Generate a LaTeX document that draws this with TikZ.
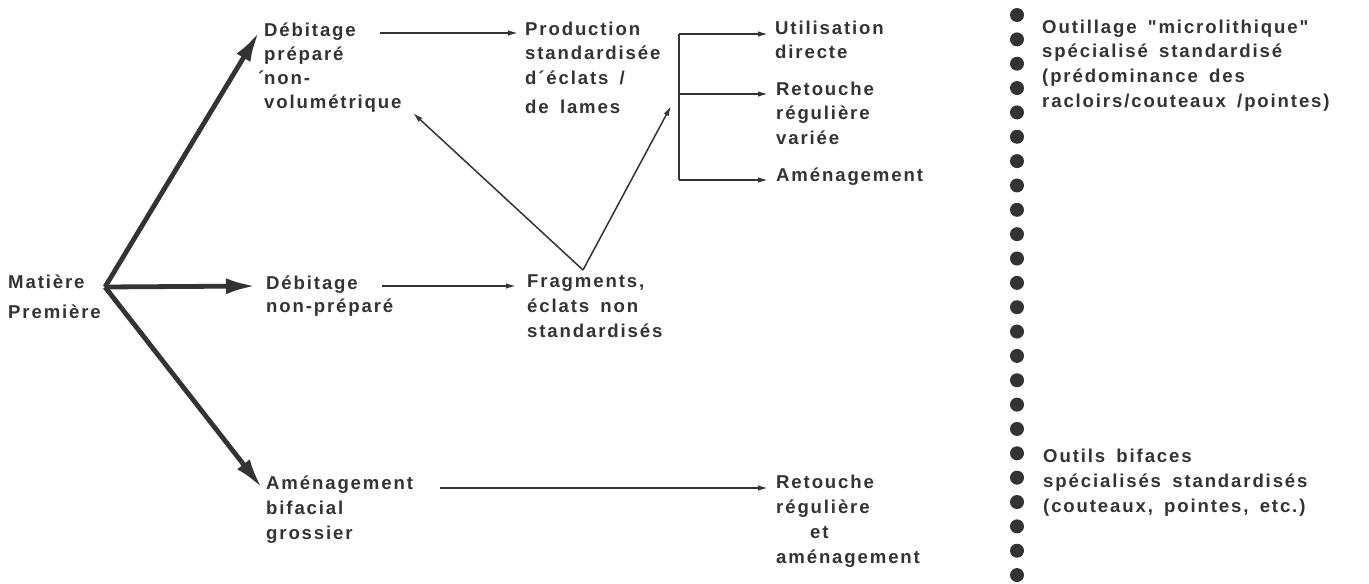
\documentclass[tikz,border=0pt]{standalone}
\usepackage{fontspec}
\newfontfamily\labfont{Liberation Sans Bold}[LetterSpace=10,WordSpace=1.6]
\usetikzlibrary{arrows.meta}
\definecolor{ink}{gray}{0.2}
\newcommand\stk[2][24.5pt]{\vtop{\baselineskip=#1\lineskip=0pt\lineskiplimit=-100pt\halign{##\hfil\cr#2\crcr}}}
\begin{document}
\begin{tikzpicture}[x=1pt,y=-1pt,
  txt/.style={anchor=base west,inner sep=0pt,text=ink,font=\labfont\fontsize{18.6}{24}\selectfont},
  bigarrow/.style={draw=ink,line width=4.8pt,-{Latex[length=30pt,width=16pt]}},
  thinarrow/.style={draw=ink,line width=1.5pt,-{Latex[length=10pt,width=5.5pt]}},
  thinline/.style={draw=ink,line width=1.5pt}]
\useasboundingbox (0,0) rectangle (1369,584);
% text blocks
\node[txt] (mp) at (8,288) {\stk[30pt]{Matière\cr Première}};
\node[txt] (dp) at (264,36) {\stk[24pt]{Débitage\cr préparé\cr \llap{´}non-\cr volumétrique}};
\node[txt] (dnp) at (266,289) {\stk[23pt]{Débitage\cr non-préparé}};
\node[txt] (ab) at (266,489) {\stk[25pt]{Aménagement\cr bifacial\cr grossier}};
\node[txt] (prod) at (525,35) {\stk[24.5pt]{Production\cr standardisée\cr d´éclats /\cr\noalign{\vskip5pt} de lames}};
\node[txt] (frag) at (527,287) {\stk[25pt]{Fragments,\cr éclats non\cr standardisés}};
\node[txt] (util) at (775,34) {\stk[24.5pt]{Utilisation\cr directe}};
\node[txt] (ret) at (776,95) {\stk[24.5pt]{Retouche\cr régulière\cr variée}};
\node[txt] (amen) at (776,181) {Aménagement};
\node[txt] (retam) at (776,488) {\stk[25pt]{Retouche\cr régulière\cr \hspace*{34pt}et\cr aménagement}};
\node[txt] (outm) at (1042,33) {\stk[24.7pt]{Outillage "microlithique"\cr spécialisé standardisé\cr (prédominance des\cr racloirs/couteaux /pointes)}};
\node[txt] (outb) at (1043,462) {\stk[25pt]{Outils bifaces\cr spécialisés standardisés\cr (couteaux, pointes, etc.)}};
% connector end points
\coordinate (o) at (105,287);
\coordinate (dp-in) at (259,32);
\coordinate (dnp-in) at (256,286);
\coordinate (ab-in) at (262,488);
\coordinate (dp-out) at (380,33);
\coordinate (prod-in) at (518,33);
\coordinate (dnp-out) at (382,286);
\coordinate (frag-in) at (516,286);
\coordinate (ab-out) at (440,488);
\coordinate (retam-in) at (768,488);
\coordinate (brtop) at (679,34);
\coordinate (brmid) at (679,94);
\coordinate (brbot) at (679,180);
\coordinate (util-in) at (768,34);
\coordinate (ret-in) at (768,94);
\coordinate (amen-in) at (768,180);
\coordinate (apex) at (583,270);
\coordinate (dp-back) at (413,113);
\coordinate (br-in) at (671,106);
% thick arrows
\draw[bigarrow] (o) -- (dp-in);
\draw[bigarrow] (o) -- (dnp-in);
\draw[bigarrow] (o) -- (ab-in);
% thin arrows
\draw[thinarrow] (dp-out) -- (prod-in);
\draw[thinarrow] (dnp-out) -- (frag-in);
\draw[thinarrow] (ab-out) -- (retam-in);
\draw[thinline] (brtop) -- (brbot);
\draw[thinarrow] (brtop) -- (util-in);
\draw[thinarrow] (brmid) -- (ret-in);
\draw[thinarrow] (brbot) -- (amen-in);
\draw[thinarrow] (apex) -- (dp-back);
\draw[thinarrow] (apex) -- (br-in);
% dotted divider
\foreach \i in {0,...,23} \fill[ink] (1017,15+\i*24.35) circle[radius=7pt];
\end{tikzpicture}
\end{document}
